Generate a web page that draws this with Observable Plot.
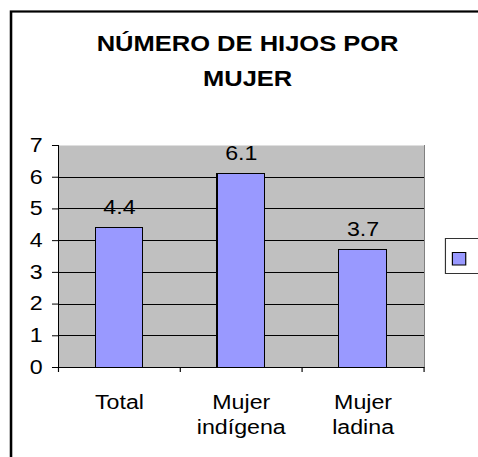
<!DOCTYPE html>
<html>
<head>
<meta charset="utf-8">
<script src="https://cdn.jsdelivr.net/npm/d3@7"></script>
<script src="https://cdn.jsdelivr.net/npm/@observablehq/plot@0.6"></script>
<style>
  html, body { margin: 0; padding: 0; background: white; overflow: hidden; }
  #chart { width: 412px; transform: scaleX(1.16); transform-origin: 0 0; }
</style>
</head>
<body>
<div id="chart"></div>
<script>
// ---- data ----
const categories = ["Total", "Mujer indígena", "Mujer ladina"];
const tickLabels = ["Total", "Mujer\nindígena", "Mujer\nladina"];
const values = [4.4, 6.1, 3.7];
const yTicks = [0, 1, 2, 3, 4, 5, 6, 7];
const gridValues = [1, 2, 3, 4, 5, 6];
const titleText = "NÚMERO DE HIJOS POR\nMUJER";

const data = categories.map((c, i) => ({category: c, value: values[i]}));
const labelOf = new Map(categories.map((c, i) => [c, tickLabels[i]]));

const W = 412, H = 457;
const mL = 50, mR = 46.5, mT = 145, mB = 90;
const step = (W - mL - mR) / categories.length;

const plot = Plot.plot({
  width: W,
  height: H,
  marginLeft: mL,
  marginRight: mR,
  marginTop: mT,
  marginBottom: mB,
  style: {fontFamily: "Arial, 'Liberation Sans', sans-serif", fontSize: "20px", color: "black", background: "white", overflow: "visible"},
  x: {domain: categories, paddingInner: 0.607, paddingOuter: 0.3035, label: null},
  y: {domain: [0, 7], label: null},
  marks: [
    Plot.frame({fill: "#C0C0C0", stroke: null}),
    Plot.ruleY(gridValues, {stroke: "black", strokeWidth: 1, shapeRendering: "crispEdges"}),
    Plot.frame({anchor: "right", stroke: "#808080", shapeRendering: "crispEdges"}),
    Plot.barY(data, {x: "category", y: "value", fill: "#9999FF", stroke: "black", strokeWidth: 1, shapeRendering: "crispEdges"}),
    Plot.ruleY([0], {stroke: "black", shapeRendering: "crispEdges"}),
    Plot.frame({anchor: "left", stroke: "black", shapeRendering: "crispEdges"}),
    Plot.axisY(yTicks, {label: null, tickSize: 5.2, tickPadding: 8.6, fontSize: 20, stroke: "black", fill: "black"}),
    Plot.axisX(categories, {label: null, anchor: "bottom", dx: -step / 2, tickSize: 5, tickFormat: () => "", stroke: "black"}),
    Plot.axisX([categories[categories.length - 1]], {label: null, anchor: "bottom", dx: step / 2, tickSize: 5, tickFormat: () => "", stroke: "black"}),
    Plot.axisX(categories, {label: null, anchor: "bottom", tickSize: 0, tickPadding: 23.5, fontSize: 20, lineHeight: 1.25, fill: "black", tickFormat: d => labelOf.get(d)}),
    Plot.text(data, {x: "category", y: "value", text: d => d.value.toFixed(1), dy: -14, lineAnchor: "bottom", fontSize: 20, fill: "black"}),
    Plot.text([titleText], {frameAnchor: "top", text: d => d, dx: 5.2, dy: -60, lineAnchor: "bottom", fontSize: 22, fontWeight: "bold", lineHeight: 1.55, fill: "black"})
  ]
});

const svg = d3.select(plot);
// outer chart border (extends past right/bottom edges)
svg.insert("rect", ":first-child")
  .attr("x", 9.5).attr("y", 11.5)
  .attr("width", 500).attr("height", 500)
  .attr("fill", "white").attr("stroke", "black").attr("stroke-width", 2.2);
// legend box (cut by the right edge)
svg.append("rect")
  .attr("x", 384).attr("y", 238.5)
  .attr("width", 80).attr("height", 35)
  .attr("fill", "white").attr("stroke", "#333").attr("stroke-width", 1);
svg.append("rect")
  .attr("x", 390).attr("y", 252.5)
  .attr("width", 11.5).attr("height", 12.5)
  .attr("fill", "#9999FF").attr("stroke", "black").attr("stroke-width", 1);

document.getElementById("chart").appendChild(plot);
</script>
</body>
</html>
